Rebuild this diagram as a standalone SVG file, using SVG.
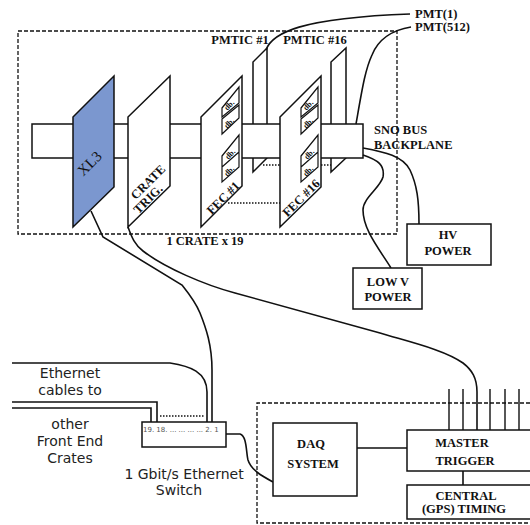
<svg xmlns="http://www.w3.org/2000/svg" width="530" height="525" viewBox="0 0 530 525">
<style>
.s{fill:none;stroke:#111;stroke-width:1.4}
.b{fill:#fff;stroke:#111;stroke-width:1.5}
.c{fill:none;stroke:#111;stroke-width:1.6}
.d{fill:none;stroke:#111;stroke-width:1.3;stroke-dasharray:4 2}
.o{fill:none;stroke:#111;stroke-width:1.3;stroke-dasharray:1.5 1.5}
.t{font-family:"Liberation Serif",serif;font-weight:bold;font-size:12.5px;fill:#111;text-anchor:middle}
.l{text-anchor:start}
.r{font-family:"Liberation Serif",serif;font-size:15px;fill:#111;text-anchor:middle}
.e{font-family:"DejaVu Sans",sans-serif;font-size:14px;fill:#222;text-anchor:middle}
.db{font-family:"Liberation Serif",serif;font-weight:bold;font-size:8px;fill:#111;text-anchor:middle}
.bd{fill:#fff;stroke:#111;stroke-width:1.2}
</style>
<defs>
<g id="dbs">
<path class="bd" d="M222 108 239 87V103L222 117ZM222 119 239 105V118L222 134ZM222 156 239 135V152L222 167ZM222 167 239 152V167L222 182Z"/>
<text class="db" transform="translate(231,107) rotate(-45)">db.</text>
<text class="db" transform="translate(231,125) rotate(-45)">db.</text>
<text class="db" transform="translate(232,156) rotate(-45)">db.</text>
<text class="db" transform="translate(231,173) rotate(-45)">db.</text>
</g>
</defs>
<g id="crate-frame"><rect class="d" x="18" y="31" width="379" height="203"/><text class="t" x="205" y="245">1 CRATE x 19</text></g>
<g id="system-frame"><path class="d" d="M530 403H257V523H530"/></g>
<g id="pmtic-1"><path class="b" d="M253 172V62L267 48V158Z"/><text class="t" x="240" y="44">PMTIC #1</text></g>
<g id="pmtic-16"><path class="b" d="M331 172V62L346 48V158Z"/><text class="t" x="315" y="44">PMTIC #16</text></g>
<g id="backplane"><rect class="b" x="32" y="124" width="331" height="34"/><text class="t l" x="374" y="134">SNO BUS</text><text class="t l" x="374" y="149">BACKPLANE</text></g>
<g id="connectors">
<path class="c" d="M266 50C272 33 300 18 410 14"/>
<path class="c" d="M356 124C362 90 365 70 372 55 378 40 392 30 411 27"/>
<path class="c" d="M363 148C385 152 403 156 410 170 417 185 419 200 419 224"/>
<path class="c" d="M363 155C378 160 385 165 383 177 380 188 363 198 363 210 363 230 380 250 391 268"/>
<path class="c" d="M91 211 103 237 182 285C190 295 196 303 200 313 206 328 212 345 212 370V422"/>
<path class="c" d="M128 227C132 238 135 245 143 251 165 268 205 285 235 293L380 333C410 342 445 350 463 363 472 370 477 378 477 392V430"/>
<path class="c" d="M12 363H170C190 366 207 372 207 392V422"/>
<path class="c" d="M12 402H157V422"/>
<path class="c" d="M12 408H151V422"/>
<path class="o" d="M160 416H205" style="stroke-width:1.6"/>
<path class="c" d="M224 434H240C247 436 246 452 248 460 251 470 262 476 273 482"/>
<path class="c" d="M357 448H407M463 471V485"/>
<path class="s" d="M449 389V430M463 389V430M490 389V430M505 389V430M519 389V430"/>
<path class="c" d="M224 431V437"/>
</g>
<g id="xl3"><path d="M73 117 114 76V187L73 227Z" fill="#7b97cf" stroke="#111" stroke-width="1.5"/><text class="r" transform="translate(93,167) rotate(-45)">XL3</text></g>
<g id="crate-trig"><path class="b" d="M128 117 170 76V186L128 227Z"/><text class="t" transform="translate(151,185) rotate(-45)">CRATE</text><text class="t" transform="translate(151,202) rotate(-45)">TRIG.</text></g>
<g id="fec-1"><path class="b" d="M201 117 242 76V186L201 227Z"/><use href="#dbs"/><text class="t" transform="translate(226,201) rotate(-45)">FEC #1</text></g>
<g id="fec-16"><path class="b" d="M280 117 321 76V187L280 227Z"/><use href="#dbs" x="79"/><text class="t" transform="translate(304,201) rotate(-45)">FEC #16</text></g>
<g id="dotted"><path class="o" d="M263 165H280M228 203H280M321 165H331"/></g>
<g id="pmt-labels"><text class="t l" x="415" y="18">PMT(1)</text><text class="t l" x="415" y="31">PMT(512)</text></g>
<g id="hv"><rect class="b" x="407" y="224" width="84" height="41"/><text class="t" x="448" y="239">HV</text><text class="t" x="448" y="255">POWER</text></g>
<g id="lowv"><rect class="b" x="353" y="268" width="69" height="41"/><text class="t" x="388" y="286">LOW V</text><text class="t" x="388" y="301">POWER</text></g>
<g id="switch"><rect class="b" x="142" y="422" width="84" height="25"/><text x="143" y="432" style="font-family:'DejaVu Sans',sans-serif;font-size:7px;fill:#555">19. 18. ... ... ... ... 2. 1</text></g>
<g id="eth-labels"><text class="e" x="70" y="378">Ethernet</text><text class="e" x="70" y="395">cables to</text><text class="e" x="70" y="429">other</text><text class="e" x="70" y="446">Front End</text><text class="e" x="70" y="463">Crates</text><text class="e" x="184" y="479">1 Gbit/s Ethernet</text><text class="e" x="179" y="495">Switch</text></g>
<g id="daq"><rect class="b" x="273" y="423" width="84" height="73"/><text class="t" x="311" y="448">DAQ</text><text class="t" x="313" y="468">SYSTEM</text></g>
<g id="master"><rect class="b" x="407" y="430" width="130" height="41"/><text class="t" x="462" y="447">MASTER</text><text class="t" x="465" y="465">TRIGGER</text></g>
<g id="central"><rect class="b" x="407" y="485" width="130" height="34"/><text class="t" x="466" y="500">CENTRAL</text><text class="t" x="464" y="513">(GPS) TIMING</text></g>
</svg>
